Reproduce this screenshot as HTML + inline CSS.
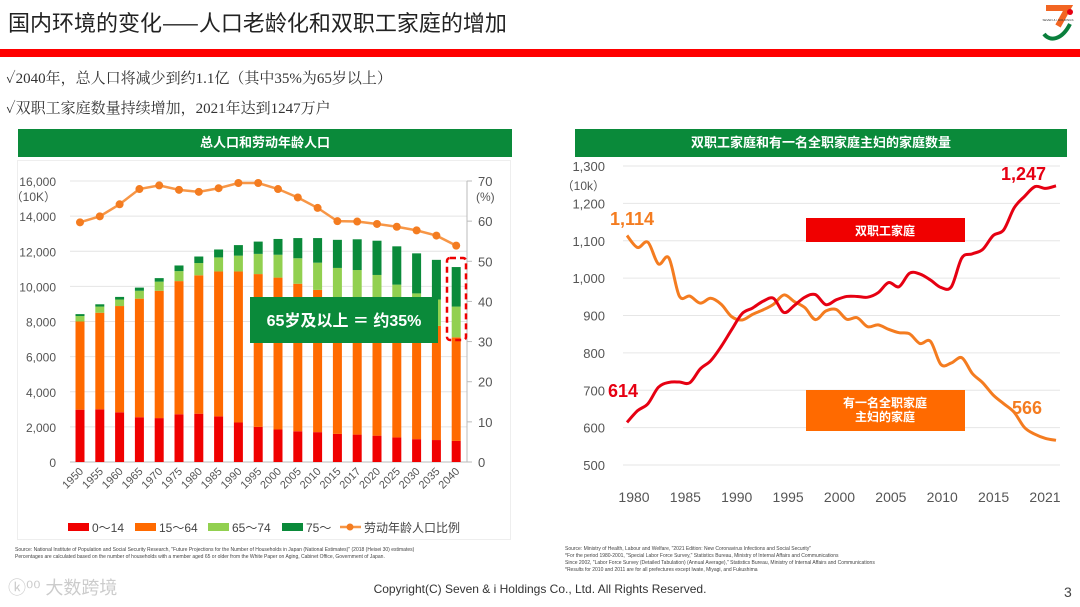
<!DOCTYPE html>
<html><head><meta charset="utf-8">
<style>
body{margin:0;width:1080px;height:607px;overflow:hidden;background:#fff;font-family:"Liberation Sans","Noto Sans CJK SC",sans-serif;position:relative}
.abs{position:absolute}
.src{font-size:5px;color:#444;line-height:7px}
</style></head><body>
<div class="abs" style="left:8px;top:6px;font-size:22px;color:#222;font-family:'Noto Sans CJK SC',sans-serif">国内环境的变化——人口老龄化和双职工家庭的增加</div>
<svg class="abs" style="left:1040px;top:4px" width="36" height="40" viewBox="0 0 36 40">
<path d="M6 4h22l-10 18" stroke="#f26522" stroke-width="6" fill="none"/>
<text x="18" y="17" font-size="3" text-anchor="middle" fill="#333">SEVEN &amp; i HOLDINGS</text>
<path d="M4 30c6 8 18 6 26-10" stroke="#0a7f3c" stroke-width="4" fill="none"/>
<circle cx="30" cy="8" r="3" fill="#e60012"/>
</svg>
<div class="abs" style="left:0;top:49px;width:1080px;height:8px;background:#f00"></div>
<div class="abs" style="left:6px;top:67px;font-size:15px;color:#333;font-family:'Liberation Serif','Noto Serif CJK SC',serif">✓2040年，总人口将减少到约1.1亿（其中35%为65岁以上）</div>
<div class="abs" style="left:6px;top:97px;font-size:15px;color:#333;font-family:'Liberation Serif','Noto Serif CJK SC',serif">✓双职工家庭数量持续增加，2021年达到1247万户</div>
<div class="abs" style="left:18px;top:129px;width:494px;height:28px;background:#0a8a3a;color:#fff;font-size:13px;font-weight:bold;text-align:center;line-height:28px">总人口和劳动年龄人口</div>
<div class="abs" style="left:575px;top:129px;width:492px;height:28px;background:#0a8a3a;color:#fff;font-size:13px;font-weight:bold;text-align:center;line-height:28px">双职工家庭和有一名全职家庭主妇的家庭数量</div>
<div class="abs" style="left:17px;top:160px;width:494px;height:380px;border:1px solid #eee;box-sizing:border-box"></div>

<svg id="left" class="abs" style="left:0;top:0" width="540" height="545"></svg>
<svg id="right" class="abs" style="left:0;top:0" width="1080" height="545"></svg>

<div class="abs src" style="left:15px;top:547px;width:480px">Source: National Institute of Population and Social Security Research, "Future Projections for the Number of Households in Japan (National Estimates)" (2018 (Heisei 30) estimates)<br>Percentages are calculated based on the number of households with a member aged 65 or older from the White Paper on Aging, Cabinet Office, Government of Japan.</div>
<div class="abs src" style="left:565px;top:546px;width:480px">Source: Ministry of Health, Labour and Welfare, "2021 Edition: New Coronavirus Infections and Social Security"<br>*For the period 1980-2001, "Special Labor Force Survey," Statistics Bureau, Ministry of Internal Affairs and Communications<br>Since 2002, "Labor Force Survey (Detailed Tabulation) (Annual Average)," Statistics Bureau, Ministry of Internal Affairs and Communications<br>*Results for 2010 and 2011 are for all prefectures except Iwate, Miyagi, and Fukushima</div>
<div class="abs" style="left:8px;top:574px;font-size:18px;color:#ccc">ⓚ⁰⁰ 大数跨境</div>
<div class="abs" style="left:0;top:582px;width:1080px;text-align:center;font-size:12px;color:#333">Copyright(C) Seven &amp; i Holdings Co., Ltd. All Rights Reserved.</div>
<div class="abs" style="left:1064px;top:584px;font-size:14px;color:#444">3</div>

<script>
const NS="http://www.w3.org/2000/svg";
function mk(p,t,a,txt){const e=document.createElementNS(NS,t);for(const k in a)e.setAttribute(k,a[k]);if(txt!==undefined)e.textContent=txt;p.appendChild(e);return e;}

// ---- Left chart data ----
const years=["1950","1955","1960","1965","1970","1975","1980","1985","1990","1995","2000","2005","2010","2015","2017","2020","2025","2030","2035","2040"];
const age0_14=[2980,3000,2830,2550,2500,2720,2750,2600,2250,2000,1850,1750,1700,1600,1560,1500,1400,1300,1250,1200];
const age15_64=[5020,5500,6050,6750,7250,7580,7880,8250,8600,8700,8650,8400,8100,7700,7600,7400,7200,6900,6500,5900];
const age65_74=[310,350,370,450,520,570,700,800,900,1150,1300,1450,1550,1750,1770,1750,1500,1400,1500,1750];
const age75=[110,130,150,180,200,320,370,450,600,700,900,1150,1400,1600,1750,1950,2180,2280,2260,2250];
const workRatio=[59.7,61.2,64.2,68.0,68.9,67.8,67.3,68.2,69.5,69.5,68.0,65.9,63.3,60.0,59.9,59.3,58.6,57.7,56.4,53.9];
const leftTicks=[0,2000,4000,6000,8000,10000,12000,14000,16000];
const rightTicks=[0,10,20,30,40,50,60,70];

const L=document.getElementById('left');
const ly=v=>462-v/16000*281, lr=v=>462-v/70*281, lx=i=>80+i*19.8;
leftTicks.forEach(t=>{
  const g=mk(L,'line',{x1:70,x2:467,y1:ly(t),y2:ly(t),stroke:t?'#e4e4e4':'#bbb','stroke-width':1});
  
  const tx=mk(L,'text',{x:56,y:ly(t)+5,'text-anchor':'end','font-size':12,fill:'#555'},t.toLocaleString('en-US'));
  
});
mk(L,'text',{x:56,y:201,'text-anchor':'end','font-size':12,fill:'#555'},'（10K）');
mk(L,'line',{x1:467,x2:467,y1:181,y2:462,stroke:'#bbb'});
rightTicks.forEach(t=>{
  mk(L,'line',{x1:467,x2:472,y1:lr(t),y2:lr(t),stroke:'#bbb'});
  const tx=mk(L,'text',{x:478,y:lr(t)+5,'font-size':13,fill:'#555'},String(t));
  
});
mk(L,'text',{x:476,y:201,'font-size':12,fill:'#555'},'(%)');
const cols=['#f00000','#ff6a00','#92d050','#0a8a3a'];
years.forEach((yr,i)=>{
  let base=0;
  [age0_14,age15_64,age65_74,age75].forEach((s,k)=>{
    const v=s[i];
    const r=mk(L,'rect',{x:lx(i)-4.5,y:ly(base+v),width:9,height:ly(base)-ly(base+v),fill:cols[k]});
    
    
    base+=v;
  });
  const t=mk(L,'text',{transform:`translate(${lx(i)+4},${472}) rotate(-45)`,'text-anchor':'end','font-size':11,fill:'#555'},yr);
  
});
const pl=mk(L,'polyline',{points:workRatio.map((v,i)=>lx(i)+','+lr(v)).join(' '),fill:'none',stroke:'#f79646','stroke-width':2.5});

workRatio.forEach((v,i)=>{
  const c=mk(L,'circle',{cx:lx(i),cy:lr(v),r:4,fill:'#f47c20'});
  
});
const ab=mk(L,'rect',{x:250,y:297,width:188,height:46,fill:'#0a8a3a'});

mk(L,'text',{x:344,y:326,'text-anchor':'middle','font-size':16,'font-weight':'bold',fill:'#fff'},'65岁及以上 ＝ 约35%');
const db=mk(L,'rect',{x:447,y:258,width:19,height:82,fill:'none',stroke:'#e00','stroke-width':2.5,'stroke-dasharray':'6,4',rx:3});

// legend
const leg=[['rect',68,cols[0],'0～14'],['rect',135,cols[1],'15～64'],['rect',208,cols[2],'65～74'],['rect',282,cols[3],'75～'],['line',340,'#f79646','劳动年龄人口比例']];
leg.forEach(([k,x,c,l])=>{
  if(k==='rect'){mk(L,'rect',{x:x,y:523,width:21,height:8,fill:c});}
  else{mk(L,'line',{x1:x,x2:x+21,y1:527,y2:527,stroke:c,'stroke-width':2.5});mk(L,'circle',{cx:x+10,cy:527,r:3.5,fill:'#f47c20'});}
  const t=mk(L,'text',{x:x+24,y:532,'font-size':12,fill:'#444'},l);
  
});

// ---- Right chart data ----
const hhYears=[1980,1981,1982,1983,1984,1985,1986,1987,1988,1989,1990,1991,1992,1993,1994,1995,1996,1997,1998,1999,2000,2001,2002,2003,2004,2005,2006,2007,2008,2009,2010,2011,2012,2013,2014,2015,2016,2017,2018,2019,2020,2021];
const dualIncome=[614,645,664,708,721,722,720,757,779,817,862,905,920,938,946,908,927,949,956,929,942,951,951,949,961,988,977,1013,1011,995,975,977,1054,1065,1077,1114,1129,1188,1219,1245,1240,1247];
const housewife=[1114,1082,1096,1038,1054,952,952,933,946,930,897,888,903,915,930,955,937,921,889,912,916,890,894,870,875,863,854,851,825,831,769,773,787,745,720,687,664,641,600,582,571,566];
const hhTicks=[500,600,700,800,900,1000,1100,1200,1300];
const hhLabels=[1980,1985,1990,1995,2000,2005,2010,2015,2021];

const R=document.getElementById('right');
const rx=y=>627+(y-1980)*(1056-627)/41, ry=v=>465-(v-500)/800*299;
hhTicks.forEach(t=>{
  const g=mk(R,'line',{x1:623,x2:1060,y1:ry(t),y2:ry(t),stroke:'#e6e6e6'});
  
  const tx=mk(R,'text',{x:605,y:ry(t)+5,'text-anchor':'end','font-size':13,fill:'#555'},t.toLocaleString('en-US'));
  
});
mk(R,'text',{x:605,y:190,'text-anchor':'end','font-size':12,fill:'#555'},'（10k）');
hhLabels.forEach((y,i)=>{
  const x=634+i*(1045-634)/8;
  const t=mk(R,'text',{x:x,y:502,'text-anchor':'middle','font-size':14,fill:'#555'},String(y));
  
});
function smooth(vals){
  const p=vals.map((v,i)=>[rx(hhYears[i]),ry(v)]);
  let d='M'+p[0].join(',');
  for(let i=0;i<p.length-1;i++){
    const p0=p[i-1]||p[i],p1=p[i],p2=p[i+1],p3=p[i+2]||p2;
    const c1=[p1[0]+(p2[0]-p0[0])/6,p1[1]+(p2[1]-p0[1])/6],c2=[p2[0]-(p3[0]-p1[0])/6,p2[1]-(p3[1]-p1[1])/6];
    d+=`C${c1.join(',')} ${c2.join(',')} ${p2.join(',')}`;
  }
  return d;
}
const lo=mk(R,'path',{d:smooth(housewife),fill:'none',stroke:'#f47c20','stroke-width':3});

const lr2=mk(R,'path',{d:smooth(dualIncome),fill:'none',stroke:'#e60012','stroke-width':3});

mk(R,'text',{x:610,y:225,'font-size':18,'font-weight':'bold',fill:'#f47c20'},'1,114');
mk(R,'text',{x:608,y:397,'font-size':18,'font-weight':'bold',fill:'#e60012'},'614');
mk(R,'text',{x:1001,y:180,'font-size':18,'font-weight':'bold',fill:'#e60012'},'1,247');
mk(R,'text',{x:1012,y:414,'font-size':18,'font-weight':'bold',fill:'#f47c20'},'566');
const b1=mk(R,'rect',{x:806,y:218,width:159,height:24,fill:'#f00000'});

mk(R,'text',{x:885,y:235,'text-anchor':'middle','font-size':12,'font-weight':'bold',fill:'#fff'},'双职工家庭');
const b2=mk(R,'rect',{x:806,y:390,width:159,height:41,fill:'#ff6a00'});

mk(R,'text',{x:885,y:407,'text-anchor':'middle','font-size':12,'font-weight':'bold',fill:'#fff'},'有一名全职家庭');
mk(R,'text',{x:885,y:421,'text-anchor':'middle','font-size':12,'font-weight':'bold',fill:'#fff'},'主妇的家庭');
</script>
</body></html>
